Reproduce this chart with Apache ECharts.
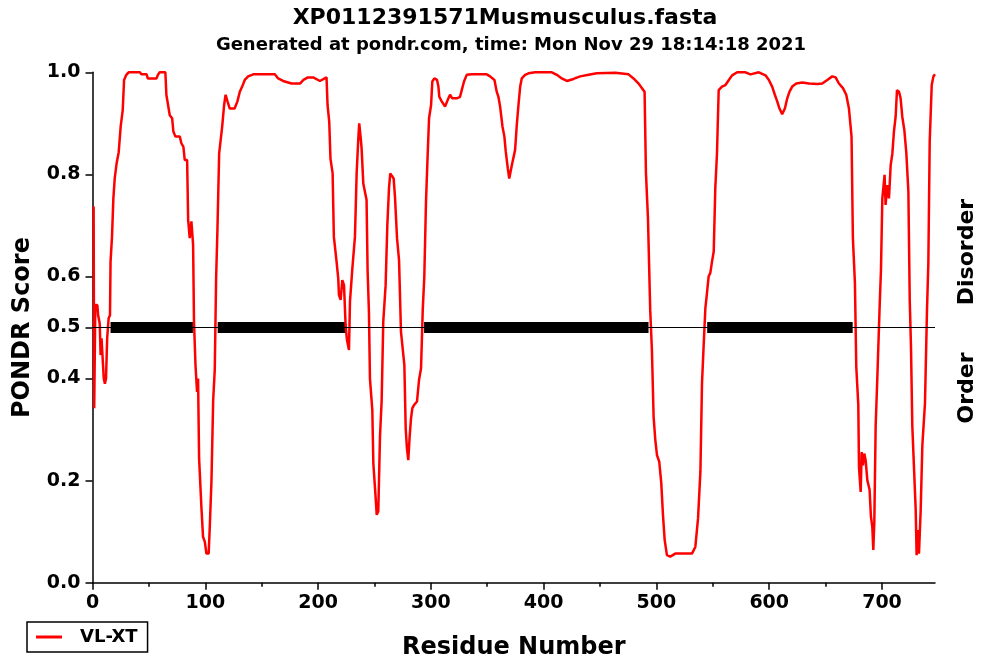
<!DOCTYPE html>
<html>
<head>
<meta charset="utf-8">
<script src="https://cdn.jsdelivr.net/npm/echarts@6/dist/echarts.min.js"></script>
<style>
  html, body { margin: 0; padding: 0; background: #fff; }
  #chart { width: 982px; height: 665px; }
</style>
</head>
<body>
<div id="chart"></div>
<script>
// PONDR VL-XT disorder profile
const seqLength = 747;
const threshold = 0.5;

const residues = [
  1, 1.5, 2.5, 4.3, 5, 6.4, 7.2, 8, 9.5, 10, 11, 12, 13, 14.3, 15.5, 16, 17.3, 18.5, 19.7, 21.4,
  23.2, 25, 26.8, 28, 30, 32, 42, 43.5, 48, 49, 56.7, 58, 59.6, 64.6, 65.5, 67, 68.5, 70.6, 71.7, 73.5,
  77.4, 78.8, 80.6, 81.8, 83.9, 84.8, 86.2, 87.7, 89.2, 90, 91.3, 92.7, 93.6, 94.5, 96.6, 98, 99.6, 101, 103, 104,
  105.5, 107, 108.4, 109.6, 110.8, 112.3, 115, 116.7, 118, 119.7, 121.7, 126, 128.5, 130.6, 132.7, 135, 138, 142.5, 161.7, 164.6,
  169, 176.5, 184, 187, 188.3, 191, 195.7, 201.6, 207.5, 208.4, 209.9, 211, 212.9, 214, 216.4, 217.9, 218.5, 220, 221.5, 223,
  224.4, 225.6, 227.4, 228.3, 230.3, 232.7, 234.2, 235.7, 236.5, 237.7, 238.6, 240.1, 243, 243.9, 245.1, 246, 248.1, 249, 251, 252,
  253.4, 254.9, 256.4, 257.8, 259.9, 261.4, 262.9, 264, 265.8, 267, 268.2, 270, 271.8, 273.5, 276.5, 277.7, 278.8, 280, 281.2, 282.4,
  283.6, 285.1, 287.7, 289.5, 291.3, 292.8, 294.2, 295.7, 296.9, 298.4, 300.2, 301.3, 303.1, 305.5, 306.7, 307.5, 309.6, 312.6, 315, 317,
  319, 323, 325.9, 327.4, 329.4, 331.8, 336.3, 349.5, 352.5, 356.4, 358.4, 359.9, 361.4, 363.5, 365.2, 366.4, 368.2, 369.5, 370.5, 371.8,
  373.2, 374.7, 376.2, 377.7, 379.2, 380.6, 383.6, 386.6, 392.5, 407.3, 411.7, 416.1, 420.6, 426.5, 432.4, 439.8, 447.2, 463.5, 475.3, 479.7,
  484.2, 487.1, 489.5, 490.7, 492.5, 494.5, 496, 497.5, 499, 500.5, 502.5, 504.3, 505.8, 507.3, 509.3, 512.3, 516.7, 531.5, 534.5, 536.9,
  539, 540.4, 541.9, 543.4, 544.8, 546.3, 547.8, 549.3, 550.8, 552.2, 553.7, 555.2, 558.1, 561.2, 564.2, 567.1, 571.6, 579, 583.4, 590.8,
  596.7, 599.7, 602.6, 605, 607.1, 609.1, 611.5, 613.9, 616, 618, 620.4, 624, 629.3, 635.2, 642.6, 647, 651.5, 655.9, 658.9, 661.8,
  665.4, 668.3, 670.7, 673, 674.2, 676, 677.2, 679, 679.6, 681.1, 682, 683.1, 684.3, 685.5, 687, 689, 690.2, 691.4, 692.3, 693.2,
  694.4, 695.8, 697.9, 699.1, 700.3, 701.5, 702.3, 703.2, 704.7, 706.2, 707.7, 709.2, 710.6, 712.1, 713.3, 715.1, 716.5, 718, 719.8, 721.6,
  723.4, 724.6, 725.7, 726.9, 728.4, 729.9, 730.7, 731.6, 732.8, 734.3, 735.8, 738.1, 739.9, 741.1, 742.3, 744.1, 745.6, 747
];

const scores = [
  0.737, 0.342, 0.544, 0.544, 0.524, 0.508, 0.446, 0.479, 0.479, 0.40, 0.39, 0.40, 0.479, 0.518, 0.524, 0.629, 0.678, 0.753, 0.792, 0.822,
  0.843, 0.894, 0.926, 0.985, 0.995, 1.0, 1.0, 0.996, 0.996, 0.988, 0.988, 0.995, 1.0, 1.0, 0.956, 0.936, 0.916, 0.91, 0.884, 0.874,
  0.874, 0.861, 0.854, 0.828, 0.828, 0.711, 0.675, 0.708, 0.662, 0.511, 0.427, 0.374, 0.40, 0.244, 0.146, 0.09, 0.08, 0.057, 0.057, 0.11,
  0.201, 0.358, 0.417, 0.596, 0.694, 0.841, 0.894, 0.936, 0.956, 0.943, 0.929, 0.929, 0.943, 0.962, 0.972, 0.985, 0.992, 0.996, 0.996, 0.988,
  0.983, 0.978, 0.978, 0.985, 0.985, 0.99, 0.99, 0.983, 0.99, 0.936, 0.903, 0.831, 0.802, 0.678, 0.629, 0.596, 0.564, 0.554, 0.593, 0.583,
  0.505, 0.476, 0.456, 0.551, 0.613, 0.678, 0.802, 0.871, 0.90, 0.874, 0.851, 0.782, 0.75, 0.613, 0.531, 0.40, 0.338, 0.234, 0.168, 0.133,
  0.14, 0.286, 0.358, 0.511, 0.583, 0.70, 0.773, 0.802, 0.796, 0.792, 0.756, 0.675, 0.632, 0.492, 0.427, 0.302, 0.263, 0.24, 0.286, 0.322,
  0.342, 0.348, 0.355, 0.397, 0.42, 0.534, 0.60, 0.747, 0.822, 0.91, 0.936, 0.982, 0.988, 0.985, 0.972, 0.952, 0.943, 0.933, 0.946, 0.956,
  0.949, 0.949, 0.952, 0.965, 0.982, 0.995, 0.996, 0.996, 0.992, 0.985, 0.962, 0.952, 0.933, 0.894, 0.874, 0.845, 0.812, 0.792, 0.795, 0.818,
  0.82, 0.848, 0.897, 0.936, 0.972, 0.988, 0.995, 0.998, 1.0, 1.0, 0.995, 0.988, 0.983, 0.987, 0.992, 0.995, 0.998, 0.999, 0.996, 0.988,
  0.978, 0.969, 0.962, 0.804, 0.714, 0.534, 0.456, 0.325, 0.28, 0.25, 0.237, 0.195, 0.133, 0.084, 0.054, 0.051, 0.057, 0.057, 0.07, 0.126,
  0.218, 0.39, 0.466, 0.538, 0.567, 0.60, 0.607, 0.629, 0.649, 0.773, 0.841, 0.965, 0.972, 0.975, 0.985, 0.994, 1.0, 1.0, 0.996, 1.0,
  0.994, 0.985, 0.972, 0.956, 0.943, 0.929, 0.918, 0.929, 0.949, 0.962, 0.972, 0.978, 0.98, 0.978, 0.977, 0.978, 0.985, 0.992, 0.99, 0.978,
  0.969, 0.956, 0.929, 0.874, 0.675, 0.587, 0.423, 0.348, 0.227, 0.178, 0.256, 0.23, 0.253, 0.24, 0.201, 0.182, 0.129, 0.11, 0.064, 0.12,
  0.309, 0.397, 0.54, 0.613, 0.753, 0.753, 0.799, 0.74, 0.779, 0.753, 0.818, 0.841, 0.884, 0.913, 0.965, 0.962, 0.949, 0.913, 0.887, 0.841,
  0.766, 0.554, 0.463, 0.306, 0.224, 0.142, 0.054, 0.103, 0.057, 0.142, 0.27, 0.351, 0.534, 0.626, 0.864, 0.975, 0.992, 0.996
];

// Predicted disordered regions (start / end residue)
const disorderStarts = [16, 111, 294, 545];
const disorderEnds = [89, 224, 493, 674];

const xMajorTicks = [0, 100, 200, 300, 400, 500, 600, 700];
const xMinorTicks = [50, 150, 250, 350, 450, 550, 650];
const yLabels = [0, 0.2, 0.4, 0.5, 0.6, 0.8, 1.0];
const yTicks = [0, 0.2, 0.4, 0.5, 0.6, 0.8, 1.0];

const FONT = '"DejaVu Sans", sans-serif';

const profile = residues.map((r, i) => [r, scores[i]]);
const regionData = [];
disorderStarts.forEach((s, i) => {
  regionData.push([s, threshold], [disorderEnds[i], threshold], [disorderEnds[i], null]);
});

const chart = echarts.init(document.getElementById('chart'), null, { renderer: 'canvas' });

const axisLineStyle = { color: '#000', width: 1.5 };

chart.setOption({
  animation: false,
  backgroundColor: '#fff',
  grid: { left: 92.5, right: 47, top: 72.3, bottom: 82.3, containLabel: false },
  xAxis: [{
    type: 'value', min: 0, max: seqLength, position: 'bottom',
    name: 'Residue Number', nameLocation: 'middle', nameGap: 53,
    nameTextStyle: { fontFamily: FONT, fontWeight: 'bold', fontSize: 24, color: '#000' },
    axisLine: { show: true, onZero: false, lineStyle: axisLineStyle },
    axisTick: { show: true, length: 7, customValues: xMajorTicks, lineStyle: axisLineStyle },
    axisLabel: { customValues: xMajorTicks, margin: 11, fontFamily: FONT, fontWeight: 'bold', fontSize: 19, color: '#000' },
    splitLine: { show: false }
  }, {
    type: 'value', min: 0, max: seqLength, position: 'bottom', gridIndex: 0,
    axisLine: { show: false, onZero: false },
    axisTick: { show: true, length: 4, customValues: xMinorTicks, lineStyle: axisLineStyle },
    axisLabel: { show: false },
    splitLine: { show: false }
  }],
  yAxis: {
    type: 'value', min: 0, max: 1,
    name: 'PONDR Score', nameLocation: 'middle', nameGap: 58, nameRotate: 90,
    nameTextStyle: { fontFamily: FONT, fontWeight: 'bold', fontSize: 24, color: '#000' },
    axisLine: { show: true, onZero: false, lineStyle: axisLineStyle },
    axisTick: { show: true, length: 7, customValues: yTicks, lineStyle: axisLineStyle },
    axisLabel: {
      customValues: yLabels, margin: 12, fontFamily: FONT, fontWeight: 'bold', fontSize: 19, color: '#000',
      formatter: v => v.toFixed(1)
    },
    splitLine: { show: false }
  },
  legend: {
    left: 27, top: 622,
    data: [{ name: 'VL-XT', icon: 'rect', itemStyle: { color: '#ff0000' } }],
    borderColor: '#000', borderWidth: 1.5, borderRadius: 0,
    padding: [6, 10, 6, 9], itemWidth: 26, itemHeight: 3,
    textStyle: { fontFamily: FONT, fontWeight: 'bold', fontSize: 18, color: '#000', padding: [0, 0, 0, 13] }
  },
  graphic: [
    { type: 'text', x: 505, y: 18, silent: true,
      style: { text: 'XP0112391571Musmusculus.fasta', align: 'center', verticalAlign: 'middle',
               fontFamily: FONT, fontWeight: 'bold', fontSize: 22, fill: '#000' } },
    { type: 'text', x: 511, y: 45, silent: true,
      style: { text: 'Generated at pondr.com, time: Mon Nov 29 18:14:18 2021', align: 'center', verticalAlign: 'middle',
               fontFamily: FONT, fontWeight: 'bold', fontSize: 18, fill: '#000' } },
    { type: 'text', x: 967, y: 252, rotation: Math.PI / 2, silent: true,
      style: { text: 'Disorder', align: 'center', verticalAlign: 'middle',
               fontFamily: FONT, fontWeight: 'bold', fontSize: 22, fill: '#000' } },
    { type: 'text', x: 967, y: 388, rotation: Math.PI / 2, silent: true,
      style: { text: 'Order', align: 'center', verticalAlign: 'middle',
               fontFamily: FONT, fontWeight: 'bold', fontSize: 22, fill: '#000' } }
  ],
  series: [
    {
      name: 'Disordered regions', type: 'line', data: regionData, z: 2,
      symbol: 'none', silent: true, connectNulls: false,
      lineStyle: { color: '#000', width: 11, cap: 'butt' },
      markLine: {
        silent: true, symbol: 'none', label: { show: false },
        lineStyle: { color: '#000', width: 1, type: 'solid' },
        data: [{ yAxis: threshold }]
      }
    },
    {
      name: 'VL-XT', type: 'line', data: profile, z: 3,
      symbol: 'none', showSymbol: false, sampling: null,
      lineStyle: { color: '#ff0000', width: 2.5 },
      itemStyle: { color: '#ff0000' }
    }
  ]
});
</script>
</body>
</html>
